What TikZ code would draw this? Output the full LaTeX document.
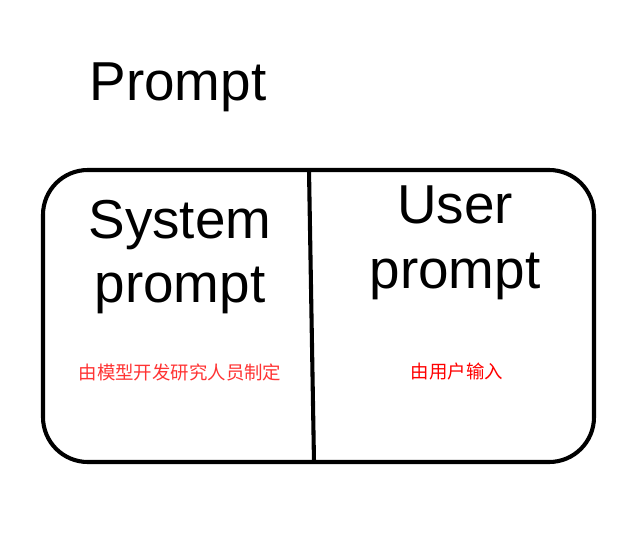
\documentclass[tikz,border=0pt]{standalone}
\usepackage{fontspec}
\setmainfont{Liberation Sans}
\newfontfamily\cjk{Noto Sans CJK SC}
\usepackage{xcolor}
\definecolor{notered}{RGB}{255,51,51}

\begin{document}
\begin{tikzpicture}[x=0.025cm,y=-0.025cm,
  big/.style={font=\fontsize{39}{46}\selectfont, align=center, inner sep=0pt},
  note/.style={font=\cjk\fontsize{13.1}{16}\selectfont, inner sep=0pt}]
\useasboundingbox[fill=white] (0,0) rectangle (640,539);

\draw[line width=2.9pt, rounded corners=1.12cm] (43,170) rectangle (594,462);
\coordinate (top) at (309,170);
\coordinate (bot) at (314,462);
\draw[line width=2.9pt] (top)--(bot);

\node[big] (title) at (178,87) {Prompt};
\node[big] (sys) at (180,257) {System\\prompt};
\node[big] (usr) at (455,243) {User\\prompt};

\node[note, text=notered] (sysnote) at (180,372) {由模型开发研究人员制定};
\node[note, text=red] (usrnote) at (457,372) {由用户输入};

\end{tikzpicture}
\end{document}
